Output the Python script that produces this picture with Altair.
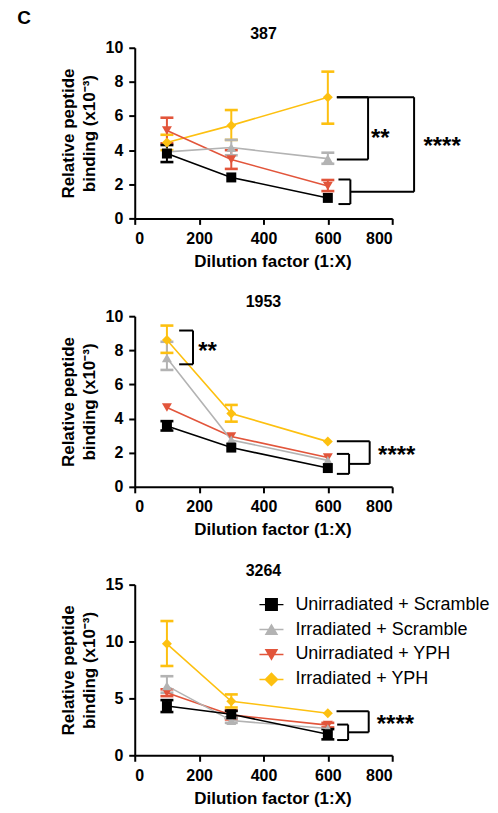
import altair as alt
import pandas as pd

FONT = "Liberation Sans"

dilution = [100, 300, 600]
series_names = ["Unirradiated + Scramble", "Irradiated + Scramble",
                "Unirradiated + YPH", "Irradiated + YPH"]
colors = ["#000000", "#b3b3b3", "#e2553b", "#fdc010"]
point_shapes = ["square", "triangle-up", "triangle-down", "diamond"]
legend_paths = [
    "M-1.85,-0.11H1.85V0.11H-1.85Z M-1,-1H1V1H-1Z",
    "M-1.85,-0.11H1.85V0.11H-1.85Z M0,-0.95L1.05,0.85H-1.05Z",
    "M-1.85,-0.11H1.85V0.11H-1.85Z M0,0.95L-1.05,-0.85H1.05Z",
    "M-1.85,-0.11H1.85V0.11H-1.85Z M0,-1.1L1.1,0L0,1.1L-1.1,0Z",
]
x_ticks = [0, 200, 400, 600, 800]

# ---- panel 387 (rows: series, cols: dilution); lo == hi where no bar is visible
p387_mean = [[3.8, 2.4, 1.2], [3.9, 4.15, 3.5], [5.15, 3.45, 1.9], [4.45, 5.45, 7.1]]
p387_lo = [[3.3, 2.4, 1.2], [3.9, 3.7, 3.2], [4.4, 2.9, 1.6], [4.0, 4.6, 5.55]]
p387_hi = [[4.3, 2.4, 1.2], [3.9, 4.6, 3.85], [5.9, 4.0, 2.25], [4.9, 6.35, 8.6]]
# brackets: (x left at top, x left at bottom, x vertical, y top, y bottom)
p387_brackets = [(628, 628, 725, 7.1, 3.45), (633, 633, 670, 2.28, 0.84), (628, 670, 868, 7.1, 1.56)]
p387_stars = [("**", 763, 4.9), ("****", 955, 4.44)]

# ---- panel 1953
p1953_mean = [[3.56, 2.3, 1.1], [7.55, 2.75, 1.55], [4.65, 2.95, 1.72], [8.6, 4.3, 2.65]]
p1953_lo = [[3.3, 2.3, 1.1], [6.85, 2.75, 1.55], [4.65, 2.95, 1.72], [7.85, 3.82, 2.65]]
p1953_hi = [[3.85, 2.3, 1.1], [8.5, 2.75, 1.55], [4.65, 2.95, 1.72], [9.45, 4.8, 2.65]]
p1953_brackets = [(138, 138, 181, 9.16, 7.18), (628, 628, 666, 1.93, 0.76), (628, 666, 730, 2.67, 1.345)]
p1953_stars = [("**", 226, 8.13), ("****", 814, 2.06)]

# ---- panel 3264
p3264_mean = [[4.33, 3.6, 1.85], [6.1, 3.05, 2.35], [5.5, 3.55, 2.65], [9.8, 4.75, 3.7]]
p3264_lo = [[3.8, 3.3, 1.4], [5.5, 2.85, 2.35], [5.2, 3.15, 2.45], [7.85, 4.2, 3.7]]
p3264_hi = [[4.85, 3.9, 2.3], [6.95, 3.25, 2.35], [5.8, 3.95, 2.85], [11.8, 5.35, 3.7]]
p3264_brackets = [(629, 629, 663, 2.7, 1.34), (627, 663, 727, 3.87, 2.02)]
p3264_stars = [("****", 810, 3.0)]


def long_df(mean, lo, hi):
    rows = []
    for i in reversed(range(len(series_names))):
        for j, d in enumerate(dilution):
            rows.append(dict(dilution=d, series=series_names[i],
                             mean=mean[i][j], lo=lo[i][j], hi=hi[i][j]))
    return pd.DataFrame(rows)


def bracket_df(brackets):
    rows = []
    for xt, xb, xv, yt, yb in brackets:
        rows.append(dict(x=xt, x2=xv, y=yt, y2=yt))
        rows.append(dict(x=xv, x2=xv, y=yt, y2=yb))
        rows.append(dict(x=xb, x2=xv, y=yb, y2=yb))
    return pd.DataFrame(rows)


def star_df(stars):
    return pd.DataFrame([dict(label=s, x=x, y=y) for s, x, y in stars])


def panel(title, mean, lo, hi, brackets, stars, ymax, ystep, with_legend=False):
    df = long_df(mean, lo, hi)
    xscale = alt.Scale(domain=[0, 800])
    yscale = alt.Scale(domain=[0, ymax])
    xaxis = alt.Axis(values=x_ticks, title="Dilution factor (1:X)", titleX=138)
    yaxis = alt.Axis(values=list(range(0, ymax + 1, ystep)),
                     title=["Relative peptide", "binding (x10\u207b\u00b3)"])

    def X(f):
        return alt.X(f"{f}:Q", scale=xscale, axis=xaxis)

    def Y(f):
        return alt.Y(f"{f}:Q", scale=yscale, axis=yaxis)

    color = alt.Color("series:N", scale=alt.Scale(domain=series_names, range=colors), legend=None)
    base = alt.Chart(df)
    errbase = base.transform_filter("datum.hi > datum.lo")
    err = errbase.mark_rule(strokeWidth=2).encode(x=X("dilution"), y=Y("lo"), y2="hi:Q", color=color)
    cap_lo = errbase.mark_tick(orient="horizontal", size=13, thickness=2.6, opacity=1).encode(
        x=X("dilution"), y=Y("lo"), color=color)
    cap_hi = errbase.mark_tick(orient="horizontal", size=13, thickness=2.6, opacity=1).encode(
        x=X("dilution"), y=Y("hi"), color=color)
    line = base.mark_line(strokeWidth=1.6).encode(x=X("dilution"), y=Y("mean"), color=color)
    pts = base.mark_point(filled=True, opacity=1, size=100).encode(
        x=X("dilution"), y=Y("mean"), color=color,
        shape=alt.Shape("series:N", scale=alt.Scale(domain=series_names, range=point_shapes), legend=None))
    br = alt.Chart(bracket_df(brackets)).mark_rule(color="black", strokeWidth=2).encode(
        x=X("x"), x2="x2:Q", y=Y("y"), y2="y2:Q")
    st = alt.Chart(star_df(stars)).mark_text(font=FONT, fontSize=24, fontWeight="bold",
                                             color="black", baseline="middle", align="center",
                                             dy=4).encode(x=X("x"), y=Y("y"), text="label:N")
    layers = [err, cap_lo, cap_hi, line, pts, br, st]
    if with_legend:
        leg = alt.Legend(title=None, orient="none", legendX=128, legendY=11, symbolSize=169,
                         labelFont=FONT, labelFontSize=18, labelFontWeight="normal",
                         labelColor="black", labelOffset=15, rowPadding=7, padding=0,
                         labelLimit=0, symbolOpacity=1, symbolStrokeWidth=0)
        leg_layer = base.mark_point(filled=True, opacity=1).encode(
            x=X("dilution"), y=Y("mean"),
            color=alt.Color("series:N", scale=alt.Scale(domain=series_names, range=colors), legend=leg),
            shape=alt.Shape("series:N", scale=alt.Scale(domain=series_names, range=legend_paths), legend=leg),
        ).transform_filter("datum.dilution < 0")
        layers.append(leg_layer)
    ch = alt.layer(*layers)
    if with_legend:
        ch = ch.resolve_scale(color="independent", shape="independent")
    else:
        ch = ch.resolve_scale(shape="independent")
    return ch.properties(width=258, height=171, title=alt.Title(title))


p1 = panel("387", p387_mean, p387_lo, p387_hi, p387_brackets, p387_stars, 10, 2)
p2 = panel("1953", p1953_mean, p1953_lo, p1953_hi, p1953_brackets, p1953_stars, 10, 2)
p3 = panel("3264", p3264_mean, p3264_lo, p3264_hi, p3264_brackets, p3264_stars, 15, 5, with_legend=True)

chart = alt.vconcat(p1, p2, p3, spacing=25).properties(
    title=alt.Title("C", anchor="start", fontSize=19, dx=-42, offset=-2),
    padding={"left": 9, "top": 0, "right": 0, "bottom": 0},
).configure_axis(
    domainColor="black", domainWidth=2, tickColor="black", tickWidth=2, tickSize=6,
    labelFont=FONT, labelFontSize=16, labelFontWeight="bold", labelColor="black", labelPadding=6,
    titleFont=FONT, titleFontSize=17, titleFontWeight="bold", titleColor="black",
    titlePadding=7, titleLineHeight=21, grid=False,
).configure_view(stroke=None).configure_title(
    font=FONT, fontSize=16, fontWeight="bold", color="black", offset=-2
)

chart.save("out.html", embed_options={"renderer": "svg", "actions": False})
